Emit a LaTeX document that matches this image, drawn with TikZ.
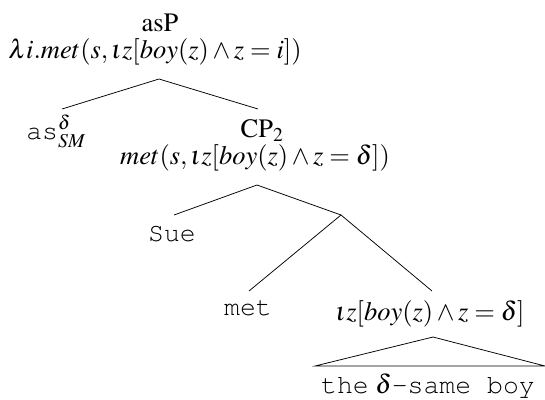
\documentclass[tikz,border=0pt]{standalone}
\usepackage[T1]{fontenc}
\usepackage{mathptmx}
\usepackage{courier}
\begin{document}
\begin{tikzpicture}[x=1pt,y=-1pt,
  lbl/.style={anchor=base,inner sep=0pt,font=\fontsize{26.5}{30}\selectfont},
  edge/.style={line width=0.75pt}]
\useasboundingbox (0,0) rectangle (545,399);
% labels
\node[lbl] (asP) at (160,31) {asP};
\node[lbl] (asPsem) at (155,58) {$\lambda i.met(s,\iota z[boy(z)\wedge z=i])$};
\node[lbl] (as) at (56,139) {\texttt{as}$^{\delta}_{SM}$};
\node[lbl] (CP) at (262,137) {CP$_2$};
\node[lbl] (CPsem) at (255,164) {$met(s,\iota z[boy(z)\wedge z=\delta])$};
\node[lbl] (Sue) at (172,241) {\texttt{Sue}};
\node[lbl] (met) at (248,315) {\texttt{met}};
\node[lbl] (iota) at (430,320) {$\iota z[boy(z)\wedge z=\delta]$};
\node[lbl] (the) at (428,393) {\texttt{the} $\delta$\texttt{-same boy}};
% edge points
\coordinate (r) at (159,79);
\coordinate (rl) at (62,109);
\coordinate (rr) at (258,109);
\coordinate (c) at (257,185);
\coordinate (cl) at (174,215);
\coordinate (m) at (341,215);
\coordinate (ml) at (249,291);
\coordinate (mr) at (432,291);
\coordinate (t) at (433,337);
\coordinate (tl) at (315,366);
\coordinate (tr) at (545,366);
\draw[edge] (rl) -- (r) -- (rr);
\draw[edge] (cl) -- (c) -- (m);
\draw[edge] (ml) -- (m) -- (mr);
\draw[edge] (t) -- (tl) -- (tr) -- cycle;
\end{tikzpicture}
\end{document}
